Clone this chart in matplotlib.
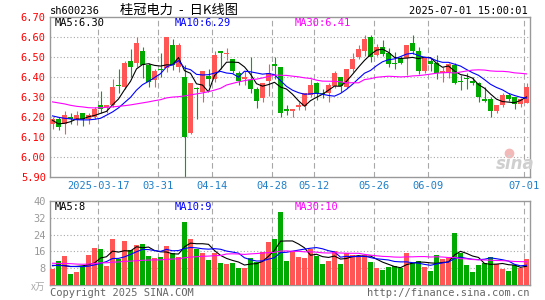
#!/usr/bin/env python3

import numpy as np
import pandas as pd
import matplotlib
matplotlib.use('Agg')
import matplotlib.pyplot as plt

# daily K data, 2025-03-05 .. 2025-07-01 (80 trading days)
opens = [6.165, 6.192, 6.165, 6.200, 6.187, 6.222, 6.190, 6.200, 6.262, 6.250,
         6.262, 6.364, 6.353, 6.483, 6.473, 6.533, 6.462, 6.387, 6.441, 6.445,
         6.562, 6.453, 6.400, 6.123, 6.345, 6.328, 6.407, 6.392, 6.532, 6.515,
         6.492, 6.420, 6.392, 6.387, 6.342, 6.295, 6.383, 6.465, 6.453, 6.240,
         6.232, 6.250, 6.257, 6.312, 6.373, 6.323, 6.320, 6.357, 6.403, 6.350,
         6.440, 6.500, 6.533, 6.600, 6.512, 6.553, 6.520, 6.473, 6.495, 6.495,
         6.570, 6.533, 6.433, 6.482, 6.473, 6.420, 6.420, 6.462, 6.383, 6.395,
         6.382, 6.373, 6.292, 6.292, 6.232, 6.262, 6.312, 6.303, 6.267, 6.273]
highs = [6.200, 6.200, 6.232, 6.220, 6.232, 6.222, 6.222, 6.250, 6.332, 6.262,
         6.390, 6.440, 6.483, 6.543, 6.603, 6.553, 6.470, 6.442, 6.523, 6.603,
         6.590, 6.570, 6.462, 6.370, 6.353, 6.430, 6.442, 6.533, 6.532, 6.545,
         6.492, 6.433, 6.432, 6.503, 6.353, 6.370, 6.467, 6.503, 6.453, 6.262,
         6.240, 6.278, 6.320, 6.390, 6.378, 6.340, 6.370, 6.433, 6.403, 6.440,
         6.523, 6.562, 6.612, 6.612, 6.567, 6.587, 6.545, 6.528, 6.507, 6.562,
         6.612, 6.550, 6.500, 6.495, 6.512, 6.450, 6.470, 6.470, 6.412, 6.420,
         6.403, 6.378, 6.350, 6.303, 6.262, 6.323, 6.320, 6.303, 6.295, 6.373]
lows = [6.142, 6.137, 6.118, 6.168, 6.162, 6.157, 6.167, 6.190, 6.222, 6.220,
        6.250, 6.320, 6.340, 6.403, 6.453, 6.398, 6.350, 6.350, 6.403, 6.428,
        6.437, 6.428, 5.903, 6.117, 6.190, 6.278, 6.358, 6.378, 6.440, 6.487,
        6.423, 6.362, 6.362, 6.320, 6.248, 6.278, 6.308, 6.390, 6.200, 6.212,
        6.200, 6.237, 6.237, 6.303, 6.287, 6.295, 6.278, 6.345, 6.328, 6.345,
        6.428, 6.490, 6.507, 6.478, 6.507, 6.508, 6.450, 6.440, 6.465, 6.412,
        6.517, 6.417, 6.420, 6.433, 6.390, 6.378, 6.395, 6.367, 6.337, 6.340,
        6.362, 6.278, 6.278, 6.200, 6.220, 6.250, 6.283, 6.242, 6.250, 6.270]
closes = [6.193, 6.153, 6.210, 6.190, 6.212, 6.190, 6.212, 6.242, 6.242, 6.262,
          6.353, 6.358, 6.473, 6.453, 6.573, 6.462, 6.378, 6.432, 6.436, 6.603,
          6.462, 6.562, 6.103, 6.370, 6.340, 6.430, 6.392, 6.512, 6.523, 6.520,
          6.433, 6.383, 6.400, 6.342, 6.283, 6.370, 6.423, 6.457, 6.223, 6.234,
          6.240, 6.260, 6.320, 6.362, 6.317, 6.317, 6.362, 6.423, 6.357, 6.440,
          6.492, 6.542, 6.592, 6.500, 6.553, 6.515, 6.465, 6.465, 6.473, 6.562,
          6.533, 6.433, 6.500, 6.465, 6.420, 6.433, 6.465, 6.373, 6.378, 6.390,
          6.373, 6.303, 6.283, 6.233, 6.262, 6.312, 6.290, 6.267, 6.290, 6.350]
# volume, x10k lots
volumes = [7.7, 11.5, 13.9, 5.3, 6.2, 8.8, 14.4, 17.8, 17.3, 9.1,
           22.1, 12.2, 21.1, 16.6, 19.2, 19.7, 13.9, 13.0, 13.4, 18.7,
           15.4, 13.4, 30.2, 22.1, 17.3, 15.4, 12.0, 15.4, 10.6, 10.1,
           10.6, 8.2, 8.2, 13.0, 11.0, 15.8, 20.6, 22.1, 35.0, 11.5,
           15.8, 13.4, 13.0, 17.3, 13.9, 10.1, 11.5, 16.3, 10.1, 15.4,
           14.4, 13.9, 14.4, 11.0, 8.2, 7.2, 8.6, 9.1, 8.3, 15.4,
           10.6, 11.5, 8.6, 6.7, 14.4, 12.5, 13.0, 25.0, 15.4, 9.6,
           6.2, 9.6, 10.6, 13.4, 10.1, 7.7, 6.7, 9.6, 8.2, 12.5]

# moving averages at the left edge depend on days before the window,
# so those first points are read off the chart
ma5_head = [6.185, 6.167, 6.170, 6.178]
ma10_head = [6.207, 6.200, 6.195, 6.192, 6.188, 6.187, 6.187, 6.190, 6.195]
ma30_head = [6.277, 6.272, 6.267, 6.260, 6.255, 6.252, 6.248, 6.247, 6.248, 6.250,
             6.252, 6.255, 6.258, 6.262, 6.267, 6.272, 6.277, 6.283, 6.288, 6.297,
             6.301, 6.303, 6.307, 6.312, 6.317, 6.322, 6.328, 6.336, 6.345]
vma5_head = [9.2, 9.5, 9.3, 8.8]
vma10_head = [9.4, 9.3, 9.2, 8.9, 8.8, 8.8, 9.0, 9.6, 10.3]
vma30_head = [10.4, 10.3, 10.3, 10.2, 10.0, 9.9, 10.0, 10.3, 10.6, 10.6,
              10.9, 11.0, 11.3, 11.4, 11.6, 11.8, 11.9, 12.0, 12.0, 12.2,
              12.4, 12.5, 13.0, 13.3, 13.5, 13.7, 13.8, 14.0, 14.1]

tick_idx = [8, 18, 27, 37, 44, 54, 63, 79]
tick_labels = ['2025-03-17', '03-31', '04-14', '04-28', '05-12', '05-26', '06-09', '07-01']
price_ticks = [5.90, 6.00, 6.10, 6.20, 6.30, 6.40, 6.50, 6.60, 6.70]
vol_ticks = [8, 16, 24, 32, 40]

RED = '#ff5555'
GREEN = '#00aa00'
GRID = '#a8a8a8'
MONO = 'DejaVu Sans Mono'
W, H = 545, 300


def moving_avg(vals, n, head):
    s = pd.Series(vals).rolling(n).mean().to_numpy()
    s[:len(head)] = head
    return s


def fx(x):
    return x / W


def fy(y):
    return 1 - y / H


def style_axes(ax):
    for sp in ax.spines.values():
        sp.set_color('#999999')
        sp.set_linewidth(1.0)
    ax.tick_params(length=0)
    for t in tick_idx:
        ax.axvline(t + 0.08, color=GRID, lw=0.8, ls=(0, (5, 3)), zorder=0)


o = np.array(opens)
c = np.array(closes)
x = np.arange(len(c)) + 5 / 12
cols = np.where(c >= o, RED, GREEN)

fig = plt.figure(figsize=(W / 100, H / 100), dpi=100)
ax = fig.add_axes([fx(50), fy(177.3), fx(480), 160 / H])
axv = fig.add_axes([fx(50), fy(285.1), fx(480), 84.1 / H])

# price panel
style_axes(ax)
for p in price_ticks[1:-1]:
    ax.axhline(p, color=GRID, lw=0.8, ls=(0, (1, 2)), zorder=0)
ax.vlines(x, lows, highs, colors=cols, lw=0.8, zorder=2)
ax.bar(x, np.maximum(np.abs(c - o), 0.004), bottom=np.minimum(o, c),
       width=5 / 6, color=cols, linewidth=0, zorder=3)
ax.plot(x, moving_avg(closes, 5, ma5_head), color='black', lw=0.8, zorder=4)
ax.plot(x, moving_avg(closes, 10, ma10_head), color='#0000ff', lw=0.8, zorder=4)
ax.plot(x, moving_avg(closes, 30, ma30_head), color='#ff00ff', lw=0.8, zorder=4)
ax.set_xlim(0, 80)
ax.set_ylim(5.90, 6.70)
ax.set_yticks(price_ticks, ['%.2f' % p for p in price_ticks])
ax.set_xticks(np.array(tick_idx) + 0.08, tick_labels)
ax.tick_params(axis='y', colors='#ff0000', labelsize=7.5, pad=3)
ax.tick_params(axis='x', colors='#1f7fc9', labelsize=7.5, pad=3)
for lab in ax.get_xticklabels() + ax.get_yticklabels():
    lab.set_family(MONO)
# watermark (logo eye drawn as a marker, word as text)
ax.plot([76.5], [6.02], 'o', ms=6, color='#f3b8b8', zorder=1)
fig.text(fx(496), fy(169), 'sina', fontsize=12, fontweight='bold', style='italic',
         color='#cfcfcf', family='DejaVu Sans')

# volume panel
style_axes(axv)
for v in vol_ticks[:-1]:
    axv.axhline(v, color=GRID, lw=0.8, ls=(0, (1, 2)), zorder=0)
axv.bar(x, volumes, width=5 / 6, color=cols, linewidth=0, zorder=3)
axv.plot(x, moving_avg(volumes, 5, vma5_head), color='black', lw=0.8, zorder=4)
axv.plot(x, moving_avg(volumes, 10, vma10_head), color='#0000ff', lw=0.8, zorder=4)
axv.plot(x, moving_avg(volumes, 30, vma30_head), color='#ff00ff', lw=0.8, zorder=4)
axv.set_xlim(0, 80)
axv.set_ylim(0, 40)
axv.set_xticks([])
axv.set_yticks(vol_ticks, [str(v) for v in vol_ticks])
axv.tick_params(axis='y', colors='#999999', labelsize=7.5, pad=3)
for lab in axv.get_yticklabels():
    lab.set_family(MONO)

# header and legend texts
fig.text(fx(50), fy(11), 'sh600236', fontsize=7.5, family=MONO, va='center')
fig.text(fx(120), fy(10), '桂冠电力  -  日K线图', fontsize=9.5, va='center',
         family=['Noto Sans CJK SC', 'DejaVu Sans'])
fig.text(fx(528), fy(11), '2025-07-01 15:00:01', fontsize=7.5, family=MONO,
         va='center', ha='right')
fig.text(fx(55), fy(23.5), 'MA5:6.30', fontsize=7.5, family=MONO, va='center')
fig.text(fx(175), fy(23.5), 'MA10:6.29', fontsize=7.5, family=MONO, va='center',
         color='#0000ff')
fig.text(fx(295), fy(23.5), 'MA30:6.41', fontsize=7.5, family=MONO, va='center',
         color='#ff00ff')
fig.text(fx(55), fy(207), 'MA5:8', fontsize=7.5, family=MONO, va='center')
fig.text(fx(175), fy(207), 'MA10:9', fontsize=7.5, family=MONO, va='center',
         color='#0000ff')
fig.text(fx(295), fy(207), 'MA30:10', fontsize=7.5, family=MONO, va='center',
         color='#ff00ff')
fig.text(fx(45), fy(287), 'x万', fontsize=7, ha='right', va='center', color='#aaaaaa',
         family=['Noto Sans CJK SC', 'DejaVu Sans'])
fig.text(fx(50), fy(292.5), 'Copyright 2025 SINA.COM', fontsize=7.5, family=MONO,
         va='center', color='#666666')
fig.text(fx(530), fy(292.5), 'http://finance.sina.com.cn', fontsize=7.5, family=MONO,
         va='center', ha='right', color='#666666')

fig.savefig('out.png', dpi=100)
print("Figure saved to out.png")
